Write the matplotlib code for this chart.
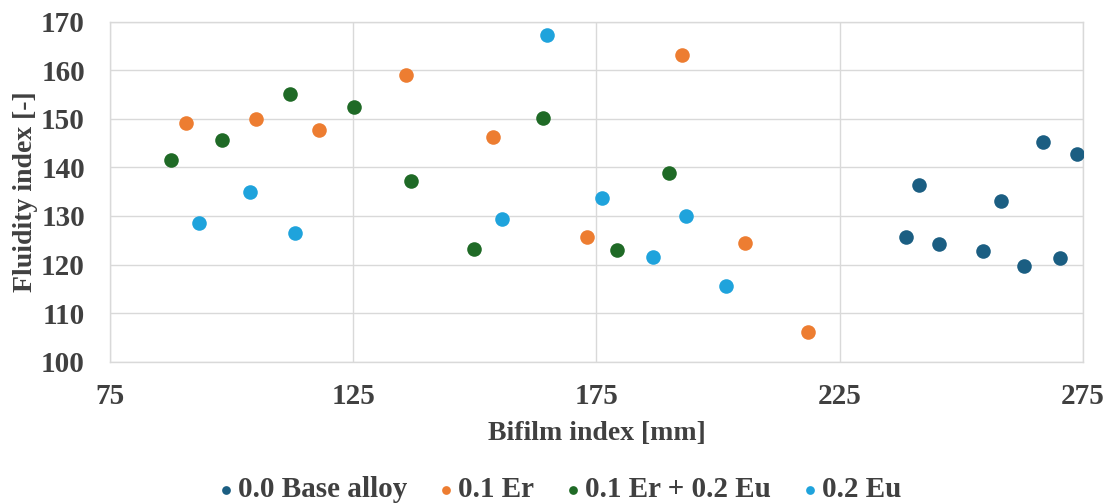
import matplotlib
matplotlib.use("Agg")
import matplotlib.pyplot as plt

# Bifilm index [mm] vs fluidity index for each alloy
base_x = [238.6, 241.4, 245.4, 254.5, 258.1, 262.9, 266.8, 270.2, 273.7]
base_y = [125.7, 136.4, 124.3, 122.8, 133.0, 119.8, 145.2, 121.4, 142.8]

er_x = [90.6, 105.0, 118.0, 135.9, 153.7, 173.1, 192.5, 205.5, 218.4]
er_y = [149.1, 150.0, 147.6, 159.0, 146.3, 125.6, 163.1, 124.4, 106.2]

ereu_x = [87.5, 98.0, 112.1, 125.1, 136.9, 149.9, 164.0, 179.3, 190.0]
ereu_y = [141.5, 145.6, 155.2, 152.4, 137.1, 123.3, 150.1, 122.9, 138.8]

eu_x = [93.4, 103.8, 113.0, 155.5, 164.8, 176.2, 186.6, 193.5, 201.6]
eu_y = [128.6, 134.9, 126.4, 129.4, 167.3, 133.8, 121.6, 130.0, 115.5]

series_labels = ["0.0 Base alloy", "0.1 Er", "0.1 Er + 0.2 Eu", "0.2 Eu"]
series_colors = ["#1b5e82", "#ed7d31", "#1f6a26", "#1fa3dc"]

x_ticks = [75, 125, 175, 225, 275]
y_ticks = [100, 110, 120, 130, 140, 150, 160, 170]

text_color = "#404040"
grid_color = "#d9d9d9"
plt.rcParams["font.family"] = ["Liberation Serif", "DejaVu Serif"]
plt.rcParams["font.weight"] = "bold"

fig = plt.figure(figsize=(11.13, 5.04), dpi=100)
ax = fig.add_axes([0.0988, 0.2823, 0.8742, 0.6747])

data = [(base_x, base_y), (er_x, er_y), (ereu_x, ereu_y), (eu_x, eu_y)]
for (xs, ys), lab, col in zip(data, series_labels, series_colors):
    ax.scatter(xs, ys, s=110, color=col, label=lab, zorder=3, linewidths=0)

ax.set_xlim(75, 275)
ax.set_ylim(100, 170)
ax.set_xticks(x_ticks)
ax.set_yticks(y_ticks)
ax.grid(True, color=grid_color, linewidth=1.0, zorder=0)
for sp in ax.spines.values():
    sp.set_color(grid_color)
    sp.set_linewidth(1.0)
ax.tick_params(axis="both", length=0, labelsize=21, labelcolor=text_color)
ax.tick_params(axis="y", pad=18)
ax.tick_params(axis="x", pad=15)
for lbl in ax.get_xticklabels() + ax.get_yticklabels():
    lbl.set_fontweight("bold")

ax.set_xlabel("Bifilm index [mm]", fontsize=20, fontweight="bold",
              color=text_color, labelpad=8)
ax.set_ylabel("Fluidity index [-]", fontsize=20, fontweight="bold",
              color=text_color, labelpad=2)

handles, labels = ax.get_legend_handles_labels()
leg = fig.legend(handles, labels, loc="center", bbox_to_anchor=(0.503, 0.028),
                 ncol=4, frameon=False, fontsize=21, markerscale=0.6,
                 handletextpad=0.15, columnspacing=1.1, handlelength=0.5)
for t in leg.get_texts():
    t.set_color(text_color)
    t.set_fontweight("bold")

fig.savefig("out.png", dpi=100, facecolor="white")
